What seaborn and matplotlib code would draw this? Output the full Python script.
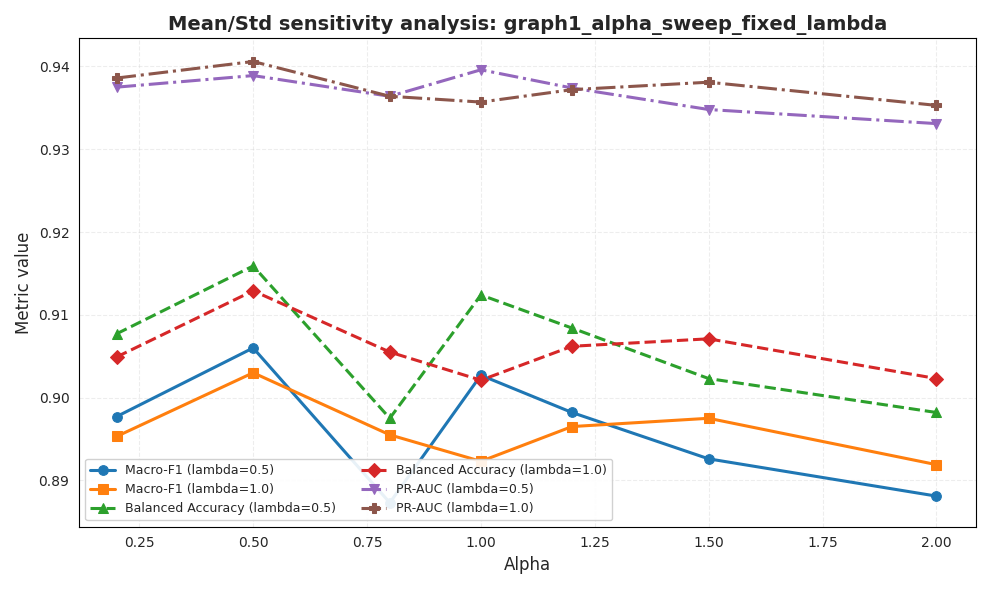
import matplotlib
matplotlib.use("Agg")
import matplotlib.pyplot as plt
import seaborn as sns
import pandas as pd

alpha = [0.2, 0.5, 0.8, 1.0, 1.2, 1.5, 2.0]
f1_l05 = [0.8977, 0.9060, 0.8873, 0.9027, 0.8982, 0.8926, 0.8881]
f1_l10 = [0.8953, 0.9030, 0.8955, 0.8923, 0.8965, 0.8975, 0.8919]
ba_l05 = [0.9077, 0.9159, 0.8975, 0.9124, 0.9084, 0.9023, 0.8982]
ba_l10 = [0.9049, 0.9129, 0.9055, 0.9021, 0.9062, 0.9071, 0.9023]
pr_l05 = [0.9375, 0.9389, 0.9364, 0.9396, 0.9374, 0.9348, 0.9331]
pr_l10 = [0.9386, 0.9406, 0.9364, 0.9357, 0.9372, 0.9381, 0.9353]

series = [
    ("Macro-F1 (lambda=0.5)", f1_l05, "#1f77b4", "-", "o"),
    ("Macro-F1 (lambda=1.0)", f1_l10, "#ff7f0e", "-", "s"),
    ("Balanced Accuracy (lambda=0.5)", ba_l05, "#2ca02c", "--", "^"),
    ("Balanced Accuracy (lambda=1.0)", ba_l10, "#d62728", "--", "D"),
    ("PR-AUC (lambda=0.5)", pr_l05, "#9467bd", "-.", "v"),
    ("PR-AUC (lambda=1.0)", pr_l10, "#8c564b", "-.", "P"),
]

sns.set_style("white")
fig, ax = plt.subplots(figsize=(9.91, 5.89), dpi=100)
for name, vals, c, ls, m in series:
    df = pd.DataFrame({"alpha": alpha, "v": vals})
    sns.lineplot(data=df, x="alpha", y="v", ax=ax, color=c, linestyle=ls,
                 marker=m, markersize=7, linewidth=2.2, label=name,
                 markeredgecolor=c)

ax.set_xlim(0.118, 2.087)
ax.set_ylim(0.8844, 0.9434)
ax.grid(True, linestyle="--", alpha=0.35)
for s in ax.spines.values():
    s.set_color("black")
ax.set_xlabel("Alpha", fontsize=12)
ax.set_ylabel("Metric value", fontsize=12)
ax.set_title("Mean/Std sensitivity analysis: graph1_alpha_sweep_fixed_lambda",
             fontsize=14, fontweight="bold")
ax.legend(ncol=2, fontsize=9, loc="lower left", framealpha=0.9)
plt.tight_layout()
plt.savefig("out.png", dpi=100)
